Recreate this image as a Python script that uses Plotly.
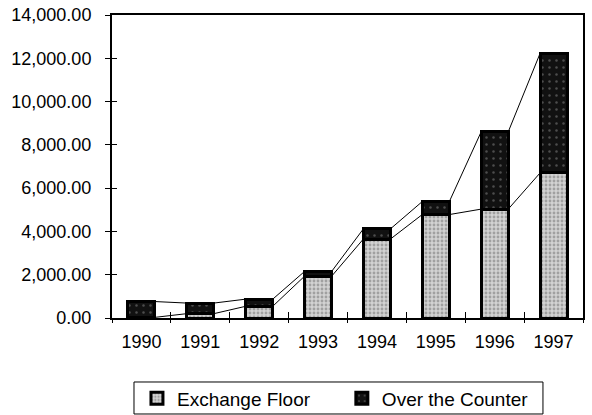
import plotly.graph_objects as go

years = ["1990", "1991", "1992", "1993", "1994", "1995", "1996", "1997"]
exchange_floor = [30, 200, 540, 1930, 3650, 4780, 5030, 6700]
over_counter = [730, 490, 330, 220, 470, 600, 3570, 5520]
y_ticks = [0, 2000, 4000, 6000, 8000, 10000, 12000, 14000]

BAR_W = 0.46
FONT = "Liberation Sans, Arial, sans-serif"

totals = [a + b for a, b in zip(exchange_floor, over_counter)]
idx = list(range(len(years)))

def series_line(vals):
    xs, ys = [], []
    for i, v in zip(idx, vals):
        xs += [i - BAR_W / 2, i + BAR_W / 2]
        ys += [v, v]
    return xs, ys

fig = go.Figure()
fig.add_trace(go.Bar(
    x=years, y=exchange_floor, name="Exchange Floor", width=BAR_W, legend="legend",
    marker=dict(color="#d2d2d2", line=dict(color="black", width=3),
                pattern=dict(shape=".", fgcolor="#6e6e6e", size=4, solidity=0.4)),
))
fig.add_trace(go.Bar(
    x=years, y=over_counter, name="Over the Counter", width=BAR_W, legend="legend2",
    marker=dict(color="#111111", line=dict(color="black", width=3),
                pattern=dict(shape=".", fgcolor="#8a8a8a", size=7, solidity=0.1)),
))
for vals in (exchange_floor, totals):
    lx, ly = series_line(vals)
    fig.add_trace(go.Scatter(x=lx, y=ly, mode="lines", xaxis="x2", yaxis="y2",
                             line=dict(color="black", width=1), showlegend=False,
                             hoverinfo="skip"))

legend_common = dict(orientation="h", yanchor="top", y=-0.203, borderwidth=0,
                     bgcolor="rgba(0,0,0,0)", font=dict(size=19))

fig.update_layout(
    barmode="stack",
    width=592, height=415,
    margin=dict(l=112, r=9, t=15, b=97, autoexpand=False),
    paper_bgcolor="white", plot_bgcolor="white",
    font=dict(family=FONT, size=18, color="black"),
    xaxis=dict(type="category", range=[-0.5, 7.5], tickson="boundaries",
               ticks="outside", ticklen=3, tickwidth=1, tickcolor="black",
               showline=True, linecolor="black", linewidth=2, mirror=True,
               showgrid=False, zeroline=False, tickfont=dict(size=18),
               automargin=False, ticklabelstandoff=6),
    yaxis=dict(range=[0, 14000], tickvals=y_ticks, tickformat=",.2f",
               ticks="outside", ticklen=5, tickwidth=1, tickcolor="black",
               showline=True, linecolor="black", linewidth=2, mirror=True,
               showgrid=False, zeroline=False, tickfont=dict(size=18),
               automargin=False, ticklabelstandoff=10),
    xaxis2=dict(overlaying="x", range=[-0.5, 7.5], tickvals=[i + 0.5 for i in idx[:-1]],
                ticks="inside", ticklen=6, tickwidth=1, tickcolor="black",
                showticklabels=False, showgrid=False, zeroline=False, showline=False),
    yaxis2=dict(overlaying="y", side="left", range=[0, 14000], tickvals=y_ticks,
                ticks="inside", ticklen=5, tickwidth=1, tickcolor="black",
                showticklabels=False, showgrid=False, zeroline=False, showline=False),
    legend=dict(x=0.053, xanchor="left", **legend_common),
    legend2=dict(x=0.488, xanchor="left", **legend_common),
    shapes=[dict(type="rect", xref="paper", yref="paper", x0=0.0467, x1=0.915,
                 y0=-0.3168, y1=-0.2112, line=dict(color="black", width=1),
                 fillcolor="rgba(0,0,0,0)", layer="below")],
    bargap=0.54,
)

fig.write_html("out.html", config={"displayModeBar": False},
               post_script="document.body.style.margin='0';")
